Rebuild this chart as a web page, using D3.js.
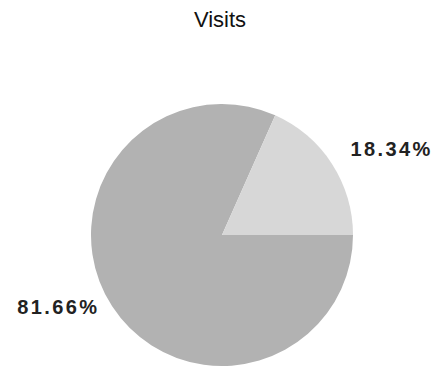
<html>
<head>
<script src="https://cdn.jsdelivr.net/npm/d3@7"></script>
<style>
  body { margin: 0; background: #fff; }
  text { font-family: "Liberation Sans", Arial, sans-serif; }
</style>
</head>
<body>
<svg width="443" height="370"></svg>
<script>
// data
var categories = ['Other', 'Visits'];
var values = [81.66, 18.34];
var labels = ['81.66%', '18.34%'];
var colors = ['#b2b2b2', '#d7d7d7'];

var svg = d3.select('svg');

// title
svg.append('text')
  .attr('x', 220)
  .attr('y', 27)
  .attr('text-anchor', 'middle')
  .style('font-size', '22px')
  .style('fill', '#111')
  .text('Visits');

var cx = 222, cy = 235, r = 131;

// pie starts at 3 o'clock so the small slice ends on the horizontal
var pie = d3.pie()
  .sort(null)
  .startAngle(Math.PI / 2)
  .endAngle(Math.PI / 2 + 2 * Math.PI);

var arc = d3.arc().innerRadius(0).outerRadius(r);
var labelArc = d3.arc().innerRadius(r * 1.17).outerRadius(r * 1.17);

var g = svg.append('g')
  .attr('transform', 'translate(' + cx + ',' + cy + ')');

var slices = g.selectAll('g')
  .data(pie(values))
  .enter()
  .append('g');

slices.append('path')
  .attr('d', arc)
  .attr('fill', function(d, i) { return colors[i]; });

function midAngle(d) { return (d.startAngle + d.endAngle) / 2; }

// labels outside, anchored away from the pie
slices.append('text')
  .attr('transform', function(d) {
    return 'translate(' + labelArc.centroid(d) + ')';
  })
  .attr('dy', function(d) {
    return Math.cos(midAngle(d)) > 0 ? '0.22em' : '-0.25em';
  })
  .attr('dx', function(d) {
    // end anchored text also counts the trailing letter-spacing
    return Math.sin(midAngle(d)) > 0 ? 0 : '0.3em';
  })
  .attr('text-anchor', function(d) {
    return Math.sin(midAngle(d)) > 0 ? 'start' : 'end';
  })
  .style('font-size', '20px')
  .style('font-weight', 'bold')
  .style('letter-spacing', '2.4px')
  .style('fill', '#222')
  .text(function(d, i) { return labels[i]; });
</script>
</body>
</html>
